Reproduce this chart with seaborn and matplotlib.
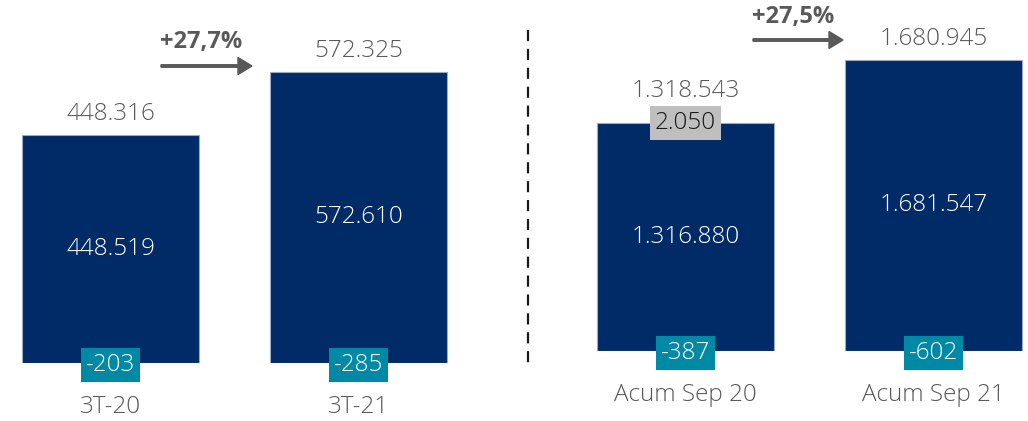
import matplotlib
matplotlib.use("Agg")
import matplotlib.pyplot as plt
import seaborn as sns

# quarter figures
q_periods = ["3T-20", "3T-21"]
q_main = [448519, 572610]
q_adjust = [-203, -285]
q_total = [448316, 572325]
q_growth = "+27,7%"

# year-to-date figures
ytd_periods = ["Acum Sep 20", "Acum Sep 21"]
ytd_main = [1316880, 1681547]
ytd_other = [2050, None]
ytd_adjust = [-387, -602]
ytd_total = [1318543, 1680945]
ytd_growth = "+27,5%"

NAVY = "#002B67"
TEAL = "#0089A5"
LIGHT = "#BFBFBF"
GREY = "#595959"

sns.set_style("white")
plt.rcParams["font.family"] = ["Open Sans", "DejaVu Sans"]

W, H = 1028, 421
FS = 17.5
fig = plt.figure(figsize=(W / 100, H / 100), dpi=100)


def fmt(v):
    return f"{v:,}".replace(",", ".")


def make_axes(x0, x1, c0, step, base, per_px):
    ax = fig.add_axes([x0 / W, (H - base) / H, (x1 - x0) / W, base / H])
    return ax, ((x0 - c0) / step, (x1 - c0) / step), (0, base * per_px)


def panel(ax, xlim, ylim, cats, main, adjust, total, other=None):
    sns.barplot(x=cats, y=main, ax=ax, color=NAVY, saturation=1,
                width=177 / 248, edgecolor="#9AAAC4", linewidth=0.8)
    ax.set_xlim(*xlim)
    ax.set_ylim(*ylim)
    ax.axis("off")
    for i, cat in enumerate(cats):
        v = main[i]
        ax.text(i, v / 2, fmt(v), color="white", fontsize=FS,
                fontweight="light", ha="center", va="center")
        ax.annotate(fmt(adjust[i]), (i, 0), xytext=(0, -1.5),
                    textcoords="offset points", ha="center", va="center",
                    color="white", fontsize=FS, fontweight="light",
                    bbox=dict(boxstyle="square,pad=0.2", fc=TEAL, ec="none"))
        lift = 15
        if other is not None and other[i] is not None:
            ax.annotate(fmt(other[i]), (i, v), xytext=(0, 0),
                        textcoords="offset points", ha="center", va="center",
                        color="#1A1A1A", fontsize=FS, fontweight="light",
                        bbox=dict(boxstyle="square,pad=0.2", fc=LIGHT, ec="none"))
            lift = 23
        ax.annotate(fmt(total[i]), (i, v), xytext=(0, lift),
                    textcoords="offset points", ha="center", va="center",
                    color=GREY, fontsize=FS, fontweight="light")
        ax.annotate(cat, (i, 0), xytext=(0, -32),
                    textcoords="offset points", ha="center", va="center",
                    color=GREY, fontsize=FS, fontweight="light",
                    annotation_clip=False)


ax1, xl1, yl1 = make_axes(0, 500, 110.5, 248, 363, 1967.5)
panel(ax1, xl1, yl1, q_periods, q_main, q_adjust, q_total)

ax2, xl2, yl2 = make_axes(540, 1028, 685.5, 248, 351, 5777)
panel(ax2, xl2, yl2, ytd_periods, ytd_main, ytd_adjust, ytd_total, ytd_other)

# growth arrows
for (xa, xb, ya, ty, label) in [(161, 252, 66, 42, q_growth),
                                (753, 843, 40, 17, ytd_growth)]:
    fig.patches.append(matplotlib.patches.FancyArrow(
        xa / W, 1 - ya / H, (xb - xa - 14) / W, 0, width=2.5 / H,
        head_width=17 / H, head_length=14 / W, length_includes_head=False,
        color=GREY, transform=fig.transFigure, figure=fig))
    fig.text((xa + 40) / W, 1 - ty / H, label, ha="center", va="center",
             fontsize=17, fontweight="bold", color=GREY, fontstretch="condensed")

# separator
fig.add_artist(plt.Line2D([528 / W, 528 / W], [1 - 30 / H, 1 - 368 / H],
                          color="#1A1A1A", lw=1.6, ls=(0, (5, 3.5)),
                          transform=fig.transFigure))

fig.savefig("out.png", dpi=100)
